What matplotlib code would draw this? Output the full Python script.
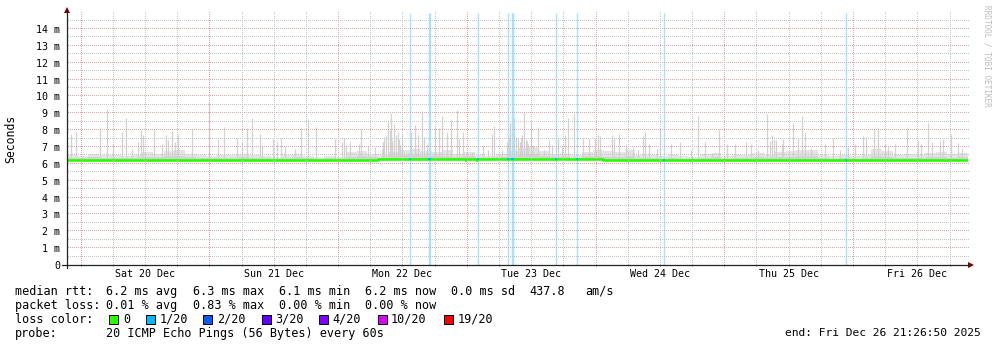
import numpy as np
import matplotlib
matplotlib.use("Agg")
import matplotlib.pyplot as plt
from matplotlib.lines import Line2D
from matplotlib.patches import Polygon, Rectangle
from datetime import datetime, timedelta

# ---------------- data ----------------
end_time = datetime(2025, 12, 26, 21, 26, 50)
span_hours = 168
day_labels = ["Sat 20 Dec", "Sun 21 Dec", "Mon 22 Dec", "Tue 23 Dec",
              "Wed 24 Dec", "Thu 25 Dec", "Fri 26 Dec"]
y_ticks_ms = list(range(0, 15))
y_tick_labels = ["0"] + [f"{v} m" for v in range(1, 15)]

# median rtt in 2-hour bins (ms)
median_ms = ([6.24] * 17 + [6.23] * 12 + [6.27] * 21 + [6.22] * 34)

# smoke body top in 2-hour bins (ms)
body_ms = [6.5, 6.45, 6.6, 6.5, 6.55, 6.45, 6.5, 6.7, 6.6, 6.75, 6.8, 6.6, 6.5, 6.45, 6.55, 6.5, 6.6,
           6.5, 6.45, 6.4, 6.5, 6.6, 6.45, 6.4, 6.45, 6.4, 6.7, 6.75, 6.6, 6.5, 6.7, 6.85, 6.9, 6.75,
           6.7, 6.8, 6.6, 6.7, 6.5, 6.45, 6.6, 6.75, 6.95, 7.0, 6.75, 6.6, 6.6, 6.5, 6.7, 6.8, 6.75,
           6.7, 6.8, 6.55, 6.5, 6.45, 6.5, 6.45, 6.4, 6.6, 6.65, 6.45, 6.5, 6.55, 6.65, 6.5, 6.7, 6.75,
           6.8, 6.85, 6.5, 6.45, 6.5, 6.45, 6.55, 6.9, 6.75, 6.55, 6.6, 6.5, 6.65, 6.7, 6.6, 6.65]

# individual smoke spikes: hours since start, ms
spike_hours = [0.75, 1.68, 6.10, 7.51, 8.63, 10.31, 11.06, 12.06, 13.29, 13.80, 14.17, 16.28, 17.77,
               18.46, 18.89, 19.52, 20.14, 20.64, 23.31, 26.48, 28.21, 29.33, 31.64, 32.57, 33.51,
               34.55, 35.99, 36.3, 38.47, 39.1, 39.9, 40.65, 42.51, 43.63, 44.99, 46.43, 49.97,
               51.22, 51.59, 52.02, 52.82, 54.5, 54.88, 56.18, 57.43, 58.68, 58.9, 59.1, 59.43,
               59.8, 60.17, 60.47, 60.6, 60.97, 61.0, 61.35, 61.72, 61.9, 62.09, 62.41, 64.14,
               64.89, 65.5, 66.14, 66.57,
               67.07, 68.62, 69.36, 69.98, 70.8, 71.6, 72.78, 73.15, 73.78, 75.46, 77.62, 78.55,
               79.19, 79.62, 81.05, 82.0, 82.4, 82.6, 83.0, 83.4, 83.7, 84.15, 84.4, 84.6, 84.9,
               85.27, 85.5, 85.7, 86.0, 86.52, 86.95, 87.88,
               89.0, 89.87, 90.38, 91.61, 92.35, 92.86, 93.36, 94.48, 96.27, 97.39, 98.45, 99.07,
               99.38, 101.56, 102.05, 102.93, 104.18, 105.59, 106.53, 107.34, 107.77, 108.52,
               109.95, 110.63, 112.62, 114.36, 116.35, 117.6, 118.96, 120.21, 121.63, 123.06,
               124.55, 126.61, 127.48, 128.9, 130.58, 131.08, 131.4, 131.83, 132.15, 133.27,
               133.57, 135.43, 136.36, 137.1, 137.6, 138.73, 141.34, 142.77, 144.13, 145.68,
               146.93, 148.48, 148.98, 150.53, 151.16, 152.52, 153.14, 154.39, 156.63, 158.62,
               159.18, 160.6, 161.23, 162.78, 163.4, 164.84, 166.2, 166.83]
spike_ms = [7.75, 7.87, 8.1, 9.25, 7.16, 7.9, 8.74, 6.9, 7.3, 8.03, 7.7, 8.07, 7.2,
            7.7, 7.4, 7.95, 7.3, 7.8, 8.07, 9.65, 7.5, 8.2, 7.55, 7.3, 8.15,
            8.74, 7.8, 7.1, 7.5, 7.3, 7.55, 7.05, 6.9, 8.15, 8.64, 8.2, 7.5,
            7.3, 7.55, 7.1, 7.3, 7.2, 8.07, 7.05, 7.0, 6.9, 7.3, 7.6, 7.65,
            8.6, 8.0, 9.04, 7.4, 8.3, 7.2, 7.7, 7.9, 7.5, 7.1, 7.75, 7.9,
            8.3, 7.7, 9.13, 7.6,
            7.15, 8.2, 8.1, 8.84, 7.9, 8.6, 9.2, 7.5, 7.9, 6.7, 7.1, 6.8,
            7.8, 8.25, 6.8, 7.3, 7.6, 8.4, 7.8, 8.7, 7.6, 7.55, 7.3, 7.55, 7.7,
            9.1, 7.4, 7.35, 7.2, 8.5, 7.1, 8.2,
            6.8, 7.4, 7.1, 7.55, 7.1, 7.7, 8.7, 8.96, 7.55, 7.45, 7.55, 7.7,
            7.65, 7.7, 7.62, 7.75, 7.15, 7.0, 6.8, 7.65, 7.9, 7.2,
            6.9, 8.15, 7.2, 7.3, 6.85, 8.86, 7.3, 6.6, 8.07, 7.2,
            7.15, 7.3, 7.2, 6.8, 8.96, 7.35, 7.7, 7.4, 7.4, 7.2,
            7.45, 8.4, 7.55, 8.84, 7.9, 6.95, 7.2, 7.55, 6.85, 6.98,
            7.2, 7.65, 7.6, 8.1, 8.1, 7.2, 7.0, 7.15, 8.1, 7.4,
            7.2, 8.4, 7.3, 7.4, 7.45, 7.75, 7.25, 6.9]

# small dips of the median (hours, ms)
dip_hours = [74.4, 75.1, 76.5]
dip_ms = [6.12, 6.15, 6.13]

# samples with 1/20 packet loss (hours since start)
loss_hours = [63.96, 67.55, 67.75, 76.64, 82.23, 82.9, 83.07, 83.25, 91.12, 95.15, 111.37, 145.31]

rtt_values = [6.2, 6.3, 6.1, 6.2]
rtt_sd = 0.0
rtt_ams = 437.8
loss_values = [0.01, 0.83, 0.00, 0.00]
loss_levels = ["0", "1/20", "2/20", "3/20", "4/20", "10/20", "19/20"]
loss_colors = ["#26ff00", "#00b8ff", "#0059ff", "#5e00ff", "#7e00ff", "#dd00ff", "#ff0000"]
probe_text = "20 ICMP Echo Pings (56 Bytes) every 60s"

# ---------------- figure ----------------
W, H = 997, 347
fig = plt.figure(figsize=(W / 100, H / 100), dpi=100)
fig.patch.set_facecolor("white")
MONO = "DejaVu Sans Mono"

def fx(px):
    return px / W

def fy(py):
    return 1 - py / H

x0, x1, ybase, ytop = 67, 968, 265, 13
ppm = (265 - 29) / 14.0
ax = fig.add_axes([fx(x0), fy(ybase), (x1 - x0) / W, (ybase - ytop) / H])
ax.set_xlim(0, span_hours)
ymax = (ybase - ytop) / ppm
ax.set_ylim(0, ymax)
for s in ax.spines.values():
    s.set_visible(False)
ax.patch.set_alpha(0)

hpp = span_hours / (x1 - x0)  # hours per pixel

start_time = end_time - timedelta(hours=span_hours)
first_mid = datetime(start_time.year, start_time.month, start_time.day) + timedelta(days=1)
mid_h = (first_mid - start_time).total_seconds() / 3600.0

# smoke body
edges = np.arange(len(body_ms) + 1) * 2.0
med_ext = np.array(median_ms + [median_ms[-1]])
body_ext = np.array(body_ms + [body_ms[-1]])
ax.fill_between(edges, med_ext, body_ext, step="post", color="#e4e4e4", lw=0, zorder=2)
core = med_ext + (body_ext - med_ext) * 0.4
ax.fill_between(edges, med_ext, core, step="post", color="#d2d2d2", lw=0, zorder=2.1)

# spikes
sh = np.array(spike_hours)
base = np.array([median_ms[min(int(h // 2), len(median_ms) - 1)] for h in sh])
ax.vlines(sh, base, spike_ms, color="#d2d2d2", lw=0.9, zorder=2.2)

# loss vertical bands
ax.vlines(loss_hours, 0, ymax, color="#a8e4f8", lw=1.0, zorder=2.5)

# median line
ax.step(edges, med_ext, where="post", color="#26ff00", lw=1.9, zorder=3)
ax.vlines(dip_hours, np.array(dip_ms), [median_ms[int(h // 2)] for h in dip_hours],
          color="#26ff00", lw=1.2, zorder=3)
ax.vlines(loss_hours, [median_ms[int(h // 2)] - 0.07 for h in loss_hours],
          [median_ms[int(h // 2)] + 0.07 for h in loss_hours], color="#00b8ff", lw=1.2, zorder=3.1)

# dotted grid drawn as single pixels
gray = "#c4c4c4"
red = "#e7a3a3"
hx = (np.arange(x0 + 1, x1 + 1, 2) - x0) * hpp
for k in range(1, 30):
    v = k * 0.5
    if v > ymax:
        break
    col = red if k % 2 == 0 else gray
    ax.plot(hx, np.full_like(hx, v), ",", color=col, zorder=4, clip_on=False)
vy = (ybase - np.arange(ytop, ybase + 3, 2)) / ppm
k = 0
while mid_h + 6 * k < span_hours:
    h = mid_h + 6 * k
    col = red if k % 4 == 0 else gray
    ax.plot(np.full_like(vy, h), vy, ",", color=col, zorder=4, clip_on=False)
    k += 1

# ticks
ax.set_yticks(y_ticks_ms)
ax.set_yticklabels(y_tick_labels, fontfamily=MONO, fontsize=7.2)
noon = [mid_h + 12 + 24 * i for i in range(len(day_labels))]
ax.set_xticks(noon)
ax.set_xticklabels(day_labels, fontfamily=MONO, fontsize=7.2)
ax.tick_params(axis="y", length=0, pad=5.0)
ax.tick_params(axis="x", length=0, pad=3.2)

# axes lines and arrows
axis_col = "#222222"
arrow_col = "#800000"
fig.add_artist(Line2D([fx(62), fx(969)], [fy(265), fy(265)], color=axis_col, lw=0.9))
fig.add_artist(Line2D([fx(67), fx(67)], [fy(268), fy(11)], color=axis_col, lw=0.9))
fig.add_artist(Polygon([[fx(968), fy(262)], [fx(974), fy(265)], [fx(968), fy(268)]],
                       closed=True, color=arrow_col, lw=0))
fig.add_artist(Polygon([[fx(64), fy(13)], [fx(67), fy(7)], [fx(70), fy(13)]],
                       closed=True, color=arrow_col, lw=0))

# y label
fig.text(fx(11), fy(139), "Seconds", rotation=90, ha="center", va="center",
         fontfamily=MONO, fontsize=8.3)
# watermark
fig.text(fx(987), fy(5), "RRDTOOL / TOBI OETIKER", rotation=-90, ha="center", va="top",
         fontfamily=MONO, fontsize=5.6, color="#bdbdbd")

# legend
fs = 8.45
def t(px, py, s, size=fs, **kw):
    fig.text(fx(px), fy(py), s, fontfamily=MONO, fontsize=size, va="center", **kw)

r1, r2, r3, r4 = 291.5, 305.5, 319.5, 333.0
t(15, r1, "median rtt:")
cols = [106.5, 192.5, 278.5, 365.0]
for c, v, lab in zip(cols, rtt_values, ["avg", "max", "min", "now"]):
    t(c, r1, f"{v:.1f} ms {lab}")
t(451, r1, f"{rtt_sd:.1f} ms sd")
t(529, r1, f"{rtt_ams:.1f}")
t(585, r1, "am/s")

t(15, r2, "packet loss:")
for c, v, lab in zip(cols, loss_values, ["avg", "max", "min", "now"]):
    t(c, r2, f"{v:.2f} % {lab}")

t(15, r3, "loss color:")
box_x = [108.5, 145.5, 203.0, 261.5, 319.0, 377.5, 444.0]
lab_x = [123.0, 159.5, 217.0, 275.0, 332.5, 391.0, 457.5]
for bx, lx, lvl, col in zip(box_x, lab_x, loss_levels, loss_colors):
    fig.add_artist(Rectangle((fx(bx), fy(r3 + 4.5)), 9 / W, 9 / H, facecolor=col,
                             edgecolor="black", lw=0.7))
    t(lx, r3, lvl)

t(15, r4, "probe:")
t(106.5, r4, probe_text)
t(981, r4, "end: " + end_time.strftime("%a %b %d %H:%M:%S %Y"), size=8.1, ha="right")

fig.savefig("out.png", dpi=100, facecolor="white")
